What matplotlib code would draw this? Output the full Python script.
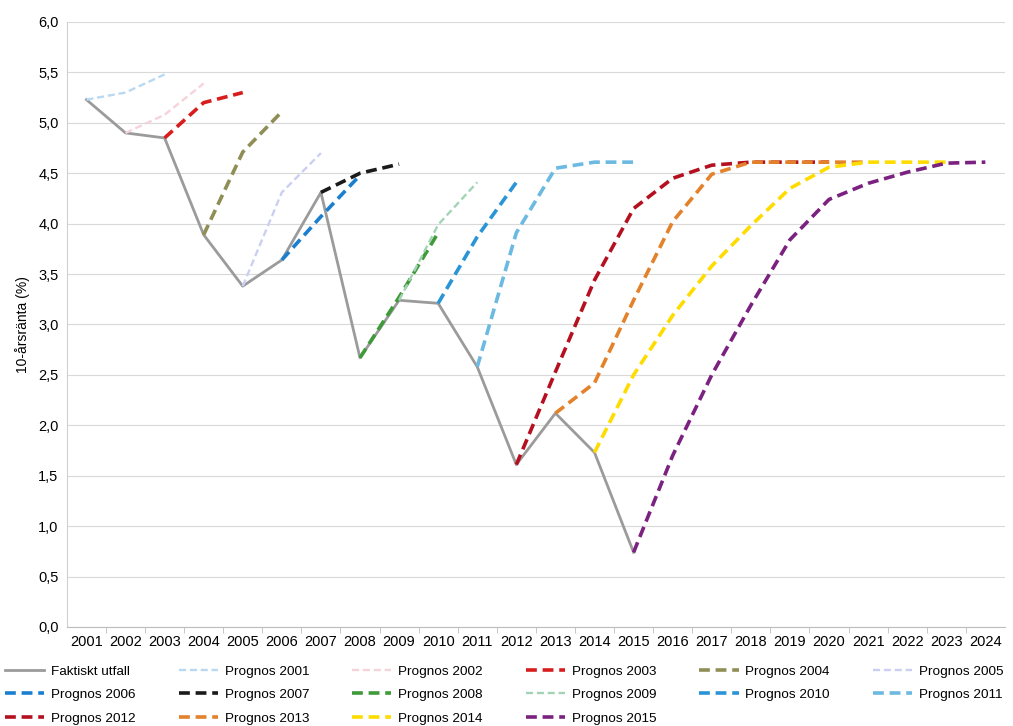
import matplotlib.pyplot as plt
from matplotlib.ticker import FuncFormatter, MultipleLocator

years = list(range(2001, 2025))

# Faktiskt utfall, 2001-2015
actual = [5.23, 4.90, 4.85, 3.89, 3.38, 3.64, 4.31, 2.67, 3.24, 3.21, 2.58, 1.61, 2.12, 1.73, 0.74]

# prognoser, each list starts at its own year
prog_2001 = [5.23, 5.30, 5.48]
prog_2002 = [4.90, 5.08, 5.39]
prog_2003 = [4.85, 5.20, 5.30]
prog_2004 = [3.89, 4.71, 5.11]
prog_2005 = [3.38, 4.31, 4.70]
prog_2006 = [3.64, 4.07, 4.48]
prog_2007 = [4.31, 4.50, 4.59]
prog_2008 = [2.67, 3.27, 3.91]
prog_2009 = [3.24, 3.99, 4.41]
prog_2010 = [3.21, 3.87, 4.41]
prog_2011 = [2.58, 3.91, 4.55, 4.61, 4.61]
prog_2012 = [1.61, 2.53, 3.44, 4.15, 4.45, 4.58, 4.61, 4.61, 4.61]
prog_2013 = [2.12, 2.42, 3.24, 4.02, 4.49, 4.61, 4.61, 4.61, 4.61]
prog_2014 = [1.73, 2.50, 3.09, 3.58, 3.98, 4.35, 4.56, 4.61, 4.61, 4.61]
prog_2015 = [0.74, 1.70, 2.50, 3.19, 3.84, 4.24, 4.40, 4.51, 4.60, 4.61]

forecasts = [prog_2001, prog_2002, prog_2003, prog_2004, prog_2005, prog_2006, prog_2007,
             prog_2008, prog_2009, prog_2010, prog_2011, prog_2012, prog_2013, prog_2014, prog_2015]
colors = ['#b9d9f2', '#f5d3da', '#d71d1d', '#8e8e55', '#cbd0f2', '#1b7fd0', '#1a1a1a',
          '#3f9a3a', '#a3d3b5', '#2a95d6', '#6cb9e2', '#b51020', '#e3822b', '#ffdc00', '#7b2180']
thin = [2001, 2002, 2005, 2009]

plt.rcParams['font.family'] = ['Liberation Sans', 'DejaVu Sans']

fig = plt.figure(figsize=(10.13, 7.26), dpi=100)
ax = fig.add_axes([0.066, 0.1364, 0.926, 0.8333])

handles = []
h, = ax.plot(years[:len(actual)], actual, color='#9b9b9b', lw=2.0, label='Faktiskt utfall', zorder=2)
handles.append(h)
for i, vals in enumerate(forecasts):
    start = 2001 + i
    xs = list(range(start, start + len(vals)))
    lw = 1.7 if start in thin else 2.6
    h, = ax.plot(xs, vals, color=colors[i], lw=lw, ls=(0, (3.0, 1.6)),
                 label='Prognos %d' % start, zorder=3)
    handles.append(h)

ax.set_xlim(2000.5, 2024.5)
ax.set_ylim(0, 6)
ax.yaxis.set_major_locator(MultipleLocator(0.5))
ax.yaxis.set_major_formatter(FuncFormatter(lambda v, p: ('%.1f' % v).replace('.', ',')))
ax.set_xticks(years)
ax.set_xticks([y + 0.5 for y in years[:-1]], minor=True)
ax.tick_params(axis='x', which='major', length=0, pad=6, labelsize=10.5)
ax.tick_params(axis='x', which='minor', length=4, color='#bdbdbd')
ax.tick_params(axis='y', length=0, pad=6, labelsize=10.5)
ax.grid(axis='y', color='#d9d9d9', lw=0.8)
ax.set_axisbelow(True)
for s in ['top', 'right']:
    ax.spines[s].set_visible(False)
ax.spines['left'].set_color('#d0d0d0')
ax.spines['bottom'].set_color('#bdbdbd')
ax.set_ylabel('10-årsränta (%)', fontsize=10, labelpad=6)

# legend filled row by row (6 columns, 3 rows)
order = [0, 6, 12, 1, 7, 13, 2, 8, 14, 3, 9, 15, 4, 10, 5, 11]
fig.legend([handles[k] for k in order], [handles[k].get_label() for k in order],
           loc='lower left', bbox_to_anchor=(0.004, 0.0),
           ncol=6, frameon=False, handlelength=2.9, handletextpad=0.5,
           columnspacing=3.2, labelspacing=0.82, borderaxespad=0.0, borderpad=0.1,
           fontsize=9.7)

fig.savefig('out.png', dpi=100)
